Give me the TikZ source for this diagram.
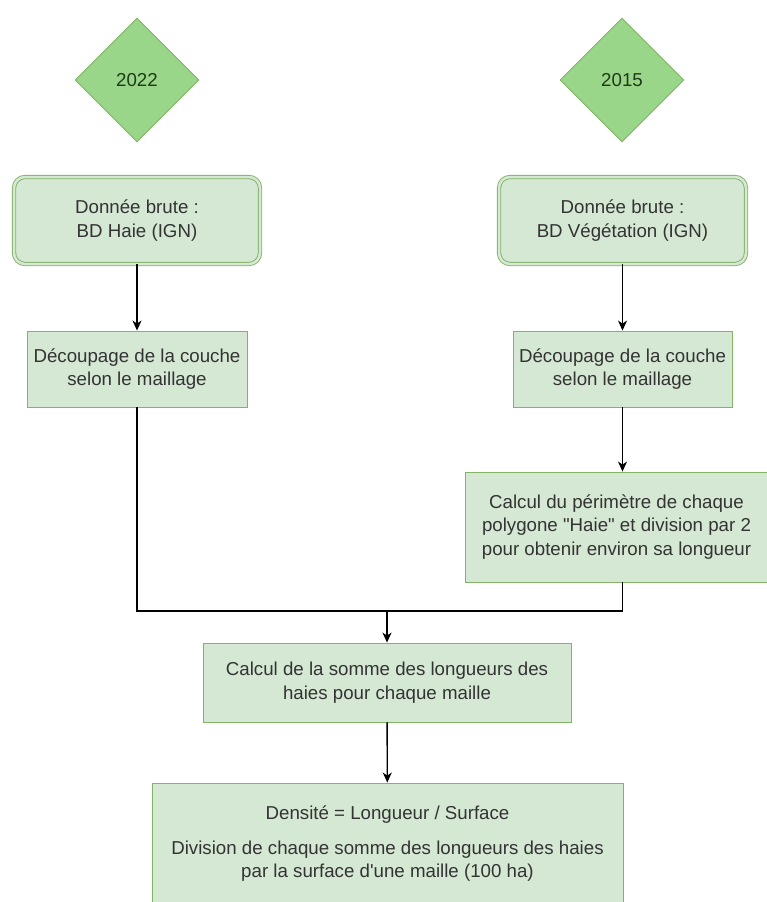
\documentclass[tikz,border=0pt]{standalone}
\usepackage{fontspec}
\setmainfont{Liberation Sans}
\usepackage{tikz}
\usetikzlibrary{shapes.geometric,arrows.meta}

\definecolor{boxfill}{HTML}{D5E8D4}
\definecolor{boxline}{HTML}{82B366}
\definecolor{yearfill}{HTML}{9AD68A}
\definecolor{yeartext}{HTML}{1E3B17}
\definecolor{boxtext}{HTML}{333333}

\tikzset{
  year/.style={diamond, draw=boxline, fill=yearfill, text=yeartext, line width=0.9pt,
    minimum width=124pt, minimum height=124pt, inner sep=0pt},
  rawbox/.style={rectangle, rounded corners=11pt, draw=boxline, double=boxfill,
    double distance=2.5pt, line width=0.9pt, fill=boxfill, text=boxtext, align=center},
  procbox/.style={rectangle, draw=boxline, fill=boxfill, line width=0.9pt,
    text=boxtext, align=center},
  flow/.style={line width=1.4pt, -{Stealth[length=10pt,width=9pt,inset=3pt]}},
}

\begin{document}
\begin{tikzpicture}[x=1pt,y=-1pt,font=\fontsize{18.7}{23.5}\selectfont]
        \clip (0,0) rectangle (767,902);
        % Years
        \node[year] (y22) at (137,80) {2022};
        \node[year] (y15) at (622,80) {2015};
        % Raw data
        \node[rawbox, minimum width=246pt, minimum height=87pt] (raw22) at (137,220.5)
            {Donnée brute :\\BD Haie (IGN)};
        \node[rawbox, minimum width=247pt, minimum height=87pt] (raw15) at (622.5,220.5)
            {Donnée brute :\\BD Végétation (IGN)};
        % Cutting by grid
        \node[procbox, minimum width=220pt, minimum height=76pt] (cut22) at (137,369)
            {Découpage de la couche\\selon le maillage};
        \node[procbox, minimum width=219pt, minimum height=76pt] (cut15) at (622.5,369)
            {Découpage de la couche\\selon le maillage};
        \node[procbox, minimum width=303pt, minimum height=110pt] (perim) at (616.5,527)
            {Calcul du périmètre de chaque\\polygone \textquotedbl Haie\textquotedbl{} et division par 2\\pour obtenir environ sa longueur};
        % Sum and density
        \node[procbox, minimum width=368pt, minimum height=79pt] (sum) at (387,682.5)
            {Calcul de la somme des longueurs des\\haies pour chaque maille};
        \node[procbox, minimum width=471pt, minimum height=122pt] (dens) at (387.5,844)
            {Densité = Longueur / Surface\\[11pt]Division de chaque somme des longueurs des haies\\par la surface d\textquotesingle une maille (100 ha)};
        % Connectors
        \coordinate (join) at (387,611);
        \draw[flow] (raw22) -- (cut22);
        \draw[flow] (raw15.south -| cut15.south) -- (cut15);
        \draw[flow] (cut15.south) -- (cut15.south |- perim.north);
        \draw[line width=1.4pt] (cut22.south) |- (join);
        \draw[line width=1.4pt] (perim.south -| cut15.south) |- (join);
        \draw[flow] (join) -- (sum);
        \draw[flow] (sum) -- (dens);
\end{tikzpicture}
\end{document}
